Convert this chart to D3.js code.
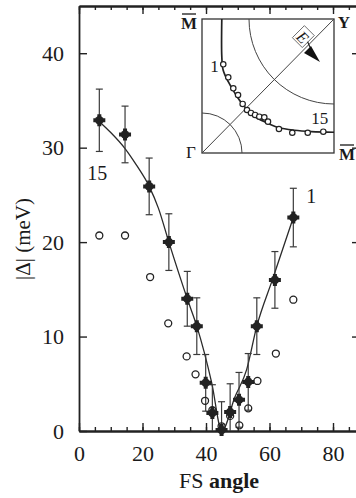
<!DOCTYPE html>
<html>
<head>
<meta charset="utf-8">
<script src="https://cdn.jsdelivr.net/npm/d3@7"></script>
<style>
  html, body { margin: 0; padding: 0; background: #fff; }
  svg { display: block; font-family: "Liberation Serif", "Times New Roman", serif; }
</style>
</head>
<body>
<div class="chart"></div>
<script>
// filled points (with error bars), numbered 15 -> 1 from left to right
let angles = [6.4, 14.5, 22.1, 28.3, 34.1, 37.1, 39.9, 42.0, 44.9, 47.6, 50.4, 53.3, 56.0, 61.7, 67.5]
let gaps   = [32.9, 31.4, 25.9, 20.0, 14.0, 11.1, 5.1, 1.9, 0.1, 2.0, 3.3, 5.2, 11.1, 16.0, 22.6]
let gapErr = [3.3, 3.0, 3.0, 3.0, 2.9, 3.0, 3.0, 3.0, 3.0, 3.0, 2.9, 3.0, 3.0, 3.0, 3.1]
// open circles
let openAngles = [6.4, 14.5, 22.4, 28.1, 33.9, 36.7, 39.7, 42.0, 44.9, 47.6, 50.5, 53.3, 56.2, 62.0, 67.5]
let openGaps   = [20.7, 20.7, 16.3, 11.4, 7.9, 6.0, 3.2, 2.2, 0.5, 1.6, 0.6, 2.4, 5.3, 8.2, 13.9]
// the drawn fit line
let fitAngles = [6.6, 10, 14.5, 18, 22.1, 25, 28.3, 34.1, 37.1, 41.8, 45, 49.1, 52.8, 56, 60.9, 67.5]
let fitGaps   = [32.7, 31.6, 29.9, 28.2, 25.9, 23.6, 20.0, 14.0, 11.1, 5.1, 0, 3.6, 6.5, 11.1, 16.0, 22.6]
// inset: Fermi surface line and measured k points (fraction of the zone quadrant)
let fsX = [0.15, 0.15, 0.16, 0.20, 0.25, 0.31, 0.39, 0.48, 0.58, 0.70, 0.83, 1.0]
let fsY = [1.0, 0.72, 0.62, 0.53, 0.445, 0.36, 0.28, 0.23, 0.19, 0.17, 0.16, 0.155]
let kX = [0.161, 0.199, 0.237, 0.273, 0.308, 0.341, 0.371, 0.402, 0.434, 0.472, 0.50, 0.583, 0.684, 0.801, 0.919]
let kY = [0.662, 0.565, 0.483, 0.433, 0.366, 0.321, 0.299, 0.284, 0.271, 0.266, 0.234, 0.179, 0.151, 0.151, 0.159]

let xTicks = [0, 20, 40, 60, 80]
let xMinor = d3.range(0, 90, 5)
let yTicks = [0, 10, 20, 30, 40]

let w = 356, h = 498
let padL = 79, padR = 360, padT = 6, padB = 431
let ink = '#222'

let svg = d3.select('.chart').append('svg').attr('width', w).attr('height', h)
svg.append('rect').attr('width', w).attr('height', h).attr('fill', '#fff')

let xScale = d3.scaleLinear().domain([0, 88.5]).range([padL, padR])
let yScale = d3.scaleLinear().domain([0, 45]).range([padB, padT])

// axes: ticks point inward on all four sides
let fmt = d3.format('d')
let axes = svg.append('g').attr('class', 'axes')
axes.append('g').attr('transform', 'translate(0,' + padB + ')')
  .call(d3.axisBottom(xScale).tickValues(xMinor).tickSizeInner(-4).tickSizeOuter(0).tickFormat(''))
axes.append('g').attr('transform', 'translate(0,' + padB + ')').attr('class', 'xlab')
  .call(d3.axisBottom(xScale).tickValues(xTicks).tickSizeInner(-8).tickSizeOuter(0).tickPadding(14).tickFormat(fmt))
axes.append('g').attr('transform', 'translate(0,' + padT + ')')
  .call(d3.axisTop(xScale).tickValues(xMinor).tickSizeInner(-4).tickSizeOuter(0).tickFormat(''))
axes.append('g').attr('transform', 'translate(0,' + padT + ')')
  .call(d3.axisTop(xScale).tickValues(xTicks).tickSizeInner(-8).tickSizeOuter(0).tickFormat(''))
axes.append('g').attr('transform', 'translate(' + padL + ',0)').attr('class', 'ylab')
  .call(d3.axisLeft(yScale).tickValues(yTicks).tickSizeInner(-8).tickSizeOuter(0).tickPadding(15).tickFormat(fmt))
axes.append('g').attr('transform', 'translate(' + padR + ',0)')
  .call(d3.axisRight(yScale).tickValues(yTicks.slice(1)).tickSizeInner(-8).tickSizeOuter(0).tickFormat(''))
axes.selectAll('path.domain').attr('stroke', ink).attr('stroke-width', 1.8)
axes.selectAll('.tick line').attr('stroke', ink).attr('stroke-width', 1.4)
axes.selectAll('.tick text').attr('fill', '#1a1a1a').style('font-size', '22px')
  .style('font-family', '"Liberation Serif", serif')

// fit line
let line = d3.line().x((d, i) => xScale(fitAngles[i])).y((d, i) => yScale(d)).curve(d3.curveMonotoneX)
svg.append('path').datum(fitGaps).attr('d', line)
  .attr('fill', 'none').attr('stroke', '#2a2a2a').attr('stroke-width', 1.3)

// error bars
let eb = svg.append('g').attr('stroke', '#3a3a3a').attr('stroke-width', 1.2)
gaps.forEach((g, i) => {
  let x = xScale(angles[i])
  let y0 = yScale(Math.max(0, g - gapErr[i])), y1 = yScale(g + gapErr[i])
  eb.append('line').attr('x1', x).attr('x2', x).attr('y1', y0).attr('y2', y1)
  eb.append('line').attr('x1', x - 3.5).attr('x2', x + 3.5).attr('y1', y1).attr('y2', y1)
  if (g - gapErr[i] > 0) eb.append('line').attr('x1', x - 3.5).attr('x2', x + 3.5).attr('y1', y0).attr('y2', y0)
})

// filled markers: blob made of a cross and a disk
let cross = d3.symbol().type(d3.symbolCross).size(80)
let dots = svg.selectAll('.dot').data(gaps).enter().append('g').attr('class', 'dot')
  .attr('transform', (d, i) => 'translate(' + xScale(angles[i]) + ',' + yScale(d) + ')')
dots.append('path').attr('d', cross).attr('fill', ink)
dots.append('circle').attr('r', 4.3).attr('fill', ink)

// open circles
svg.selectAll('.open').data(openGaps).enter().append('circle').attr('class', 'open')
  .attr('cx', (d, i) => xScale(openAngles[i])).attr('cy', d => yScale(d))
  .attr('r', 3.5).attr('fill', 'none').attr('stroke', ink).attr('stroke-width', 1.3)

// point numbers
svg.append('text').text('15').attr('x', xScale(angles[0]) - 2).attr('y', 180)
  .attr('text-anchor', 'middle').style('font-size', '20px').attr('fill', '#1a1a1a')
svg.append('text').text('1').attr('x', xScale(angles[14]) + 18).attr('y', 203)
  .attr('text-anchor', 'middle').style('font-size', '20px').attr('fill', '#1a1a1a')

// axis titles
svg.append('text').attr('transform', 'translate(30,239) rotate(-90)').attr('text-anchor', 'middle')
  .style('font-size', '21px').attr('fill', '#1a1a1a').text('|Δ| (meV)')
let xt = svg.append('text').attr('x', 219).attr('y', 488).attr('text-anchor', 'middle')
  .style('font-size', '22px').attr('fill', '#1a1a1a')
xt.append('tspan').text('FS ')
xt.append('tspan').style('font-weight', 'bold').text('angle')

// inset
let ix = 202, iy = 19, iw = 132, ih = 134
let inset = svg.append('g').attr('transform', 'translate(' + ix + ',' + iy + ')')
let u = d3.scaleLinear().domain([0, 1]).range([0, iw])
let v = d3.scaleLinear().domain([0, 1]).range([ih, 0])
inset.append('rect').attr('width', iw).attr('height', ih).attr('fill', '#fff')
  .attr('stroke', '#333').attr('stroke-width', 1.3)
inset.append('line').attr('x1', u(0)).attr('y1', v(0)).attr('x2', u(1)).attr('y2', v(1))
  .attr('stroke', '#444').attr('stroke-width', 1)
let p1 = d3.path(); p1.arc(u(0), v(0), 40, -Math.PI / 2, 0)
inset.append('path').attr('d', p1.toString()).attr('fill', 'none').attr('stroke', '#444').attr('stroke-width', 1)
let p2 = d3.path(); p2.arc(u(1), v(1), 85, Math.PI / 2, Math.PI)
inset.append('path').attr('d', p2.toString()).attr('fill', 'none').attr('stroke', '#444').attr('stroke-width', 1)
let fsLine = d3.line().x((d, i) => u(fsX[i])).y(d => v(d)).curve(d3.curveCatmullRom.alpha(0.5))
inset.append('path').datum(fsY).attr('d', fsLine).attr('fill', 'none').attr('stroke', ink).attr('stroke-width', 1.7)
inset.selectAll('.k').data(kY).enter().append('circle').attr('class', 'k')
  .attr('cx', (d, i) => u(kX[i])).attr('cy', d => v(d)).attr('r', 2.7)
  .attr('fill', '#fff').attr('stroke', ink).attr('stroke-width', 1.2)
inset.append('text').text('1').attr('x', u(kX[0]) - 13).attr('y', v(kY[0]) + 8)
  .style('font-size', '17px').attr('fill', '#1a1a1a')
inset.append('text').text('15').attr('x', u(kX[14]) - 12).attr('y', v(kY[14]) - 8)
  .style('font-size', '17px').attr('fill', '#1a1a1a')

// polarization vector E
let eg = inset.append('g').attr('transform', 'translate(' + u(0.765) + ',' + v(0.866) + ') rotate(45)')
eg.append('rect').attr('x', -7).attr('y', -9).attr('width', 14).attr('height', 17)
  .attr('fill', '#fff').attr('stroke', '#555').attr('stroke-width', 0.8)
eg.append('text').text('E').attr('text-anchor', 'middle').attr('y', 6)
  .style('font-size', '16px').style('font-style', 'italic').attr('fill', '#1a1a1a')
inset.append('line').attr('x1', u(0.80)).attr('y1', v(0.83)).attr('x2', u(0.85)).attr('y2', v(0.72))
  .attr('stroke', ink).attr('stroke-width', 1.2)
let tip = [u(0.894), v(0.679)]
inset.append('path').attr('d', 'M' + tip[0] + ',' + tip[1] + 'L' + (tip[0] - 16) + ',' + (tip[1] - 9) +
  'L' + (tip[0] - 9) + ',' + (tip[1] - 16) + 'Z').attr('fill', '#111')

// zone labels
let lab = (t, x, y, bar, bold) => {
  let g = svg.append('g')
  g.append('text').text(t).attr('x', x).attr('y', y).attr('text-anchor', 'middle')
    .style('font-size', '17px').style('font-weight', bold ? 'bold' : 'normal').attr('fill', '#1a1a1a')
  if (bar) g.append('line').attr('x1', x - 7).attr('x2', x + 7).attr('y1', y - 15).attr('y2', y - 15)
    .attr('stroke', '#1a1a1a').attr('stroke-width', 1.3)
}
lab('M', 189, 29, true, true)
lab('Y', 344, 28, false, true)
lab('Γ', 191, 158, false, false)
lab('M', 347, 160, true, true)
</script>
</body>
</html>
